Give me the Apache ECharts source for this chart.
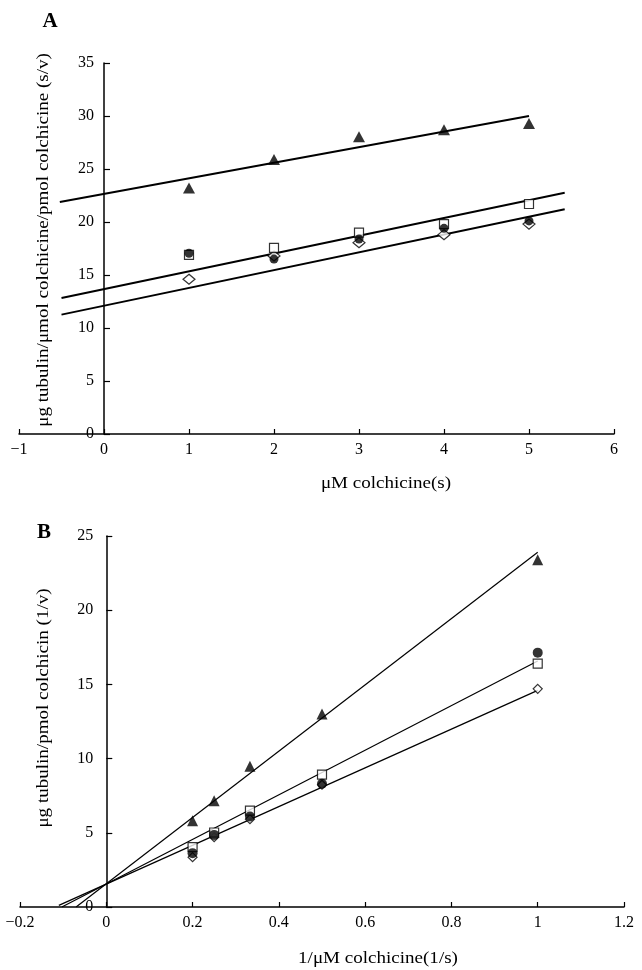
<!DOCTYPE html>
<html>
<head>
<meta charset="utf-8">
<script src="https://cdn.jsdelivr.net/npm/echarts@6/dist/echarts.min.js"></script>
<style>
html,body{margin:0;padding:0;background:#fff;}
#chart{width:642px;height:970px;}
</style>
</head>
<body>
<div id="chart"></div>
<script>
// ---- Panel A data (Hanes plot: s/v vs s) ----
var sA = [1, 2, 3, 4, 5];
var triA = [23.2, 25.9, 28.05, 28.7, 29.3];
var circA = [17.05, 16.5, 18.4, 19.4, 20.1];
var sqA = [16.9, 17.55, 19.0, 19.8, 21.7];
var diaA = [14.6, 16.8, 18.05, 18.8, 19.8];
var fitTriA = [[-0.52, 21.88], [5.0, 30.0]];
var fitSqA = [[-0.5, 12.83], [5.42, 22.76]];
var fitDiaA = [[-0.5, 11.26], [5.42, 21.2]];
var xRangeA = [-1, 6, 1];
var yRangeA = [0, 35, 5];

// ---- Panel B data (Lineweaver-Burk: 1/v vs 1/s) ----
var sB = [0.2, 0.25, 0.333, 0.5, 1];
var triB = [5.81, 7.16, 9.48, 13.0, 23.4];
var circB = [3.63, 4.86, 6.1, 8.31, 17.14];
var sqB = [4.03, 5.02, 6.49, 8.92, 16.4];
var diaB = [3.36, 4.7, 5.92, 8.24, 14.7];
var fitTriB = [[-0.07, 0], [1, 23.9]];
var fitSqB = [[-0.103, 0], [1, 16.58]];
var fitDiaB = [[-0.11, 0.11], [1, 14.6]];
var xRangeB = [-0.2, 1.2, 0.2];
var yRangeB = [0, 25, 5];

var FONT = '"Liberation Serif", "DejaVu Serif", serif';
var GRID_A = { left: 19, top: 63, width: 595, height: 371 };
var GRID_B = { left: 20, top: 536, width: 604, height: 371 };

function pairs(xs, ys) { return xs.map(function (x, i) { return [x, ys[i]]; }); }
function fmt(v) { return String(v).replace('-', '\u2212'); }

function xAxisCfg(idx, r) {
  return {
    type: 'value', gridIndex: idx, min: r[0], max: r[1], interval: r[2],
    axisLine: { onZero: false, lineStyle: { color: '#000', width: 1.5 } },
    axisTick: { inside: true, length: 5, lineStyle: { color: '#000', width: 1.2 } },
    axisLabel: { margin: 8, color: '#000', fontFamily: FONT, fontSize: 16, formatter: fmt, showMinLabel: true, showMaxLabel: true },
    splitLine: { show: false }
  };
}
function yAxisCfg(idx, r, xr, grid, margin) {
  // place the y axis at x = 0 of the horizontal axis
  var off = -(0 - xr[0]) / (xr[1] - xr[0]) * grid.width;
  return {
    type: 'value', gridIndex: idx, min: r[0], max: r[1], interval: r[2],
    position: 'left', offset: off,
    axisLine: { show: true, onZero: false, lineStyle: { color: '#000', width: 1.5 } },
    axisTick: { show: true, inside: true, length: 6, lineStyle: { color: '#000', width: 1.2 } },
    axisLabel: { margin: margin, color: '#000', fontFamily: FONT, fontSize: 16, formatter: fmt },
    splitLine: { show: false }
  };
}
function fitLine(idx, data, w) {
  return {
    type: 'line', xAxisIndex: idx, yAxisIndex: idx, data: data, symbol: 'none', silent: true,
    lineStyle: { color: '#000', width: w }, z: 1, animation: false
  };
}
function scat(idx, data, symbol, size, filled) {
  return {
    type: 'scatter', xAxisIndex: idx, yAxisIndex: idx, data: data, symbol: symbol, symbolSize: size,
    itemStyle: filled ? { color: '#000' } : { color: '#fff', borderColor: '#000', borderWidth: 1.2 },
    z: 3, animation: false
  };
}
function txt(x, y, s, size, opts) {
  var o = {
    type: 'text', x: x, y: y,
    style: { text: s, font: size + 'px ' + FONT, fill: '#000', textAlign: 'center', textVerticalAlign: 'middle' }
  };
  for (var k in (opts || {})) o[k] = opts[k];
  return o;
}

var chart = echarts.init(document.getElementById('chart'), null, { renderer: 'canvas' });
chart.setOption({
  backgroundColor: '#fff',
  animation: false,
  grid: [
    Object.assign({ outerBoundsMode: 'none', containLabel: false }, GRID_A),
    Object.assign({ outerBoundsMode: 'none', containLabel: false }, GRID_B)
  ],
  xAxis: [xAxisCfg(0, xRangeA), xAxisCfg(1, xRangeB)],
  yAxis: [yAxisCfg(0, yRangeA, xRangeA, GRID_A, 10), yAxisCfg(1, yRangeB, xRangeB, GRID_B, 13)],
  series: [
    fitLine(0, fitTriA, 2), fitLine(0, fitSqA, 2), fitLine(0, fitDiaA, 2),
    scat(0, pairs(sA, diaA), 'diamond', [12, 10], false),
    scat(0, pairs(sA, sqA), 'rect', 9, false),
    scat(0, pairs(sA, circA), 'circle', 9, true),
    scat(0, pairs(sA, triA), 'triangle', [12, 11], true),
    fitLine(1, fitTriB, 1.2), fitLine(1, fitSqB, 1.2), fitLine(1, fitDiaB, 1.2),
    scat(1, pairs(sB, diaB), 'diamond', [9, 9], false),
    scat(1, pairs(sB, sqB), 'rect', 9, false),
    scat(1, pairs(sB, circB), 'circle', 10, true),
    scat(1, pairs(sB, triB), 'triangle', [11, 11], true)
  ],
  graphic: [
    txt(50, 22, 'A', 'bold 21'),
    txt(44, 533, 'B', 'bold 21'),
    txt(44, 240, '\u03bcg tubulin/\u03bcmol colchicine/pmol colchicine (s/v)', 17, { rotation: Math.PI / 2, scaleX: 1.12 }),
    txt(44, 708, '\u03bcg tubulin/pmol colchicin (1/v)', 17, { rotation: Math.PI / 2, scaleX: 1.12 }),
    txt(386, 484, '\u03bcM colchicine(s)', 17, { scaleX: 1.12 }),
    txt(378, 959, '1/\u03bcM colchicine(1/s)', 17, { scaleX: 1.12 })
  ]
});
</script>
</body>
</html>
